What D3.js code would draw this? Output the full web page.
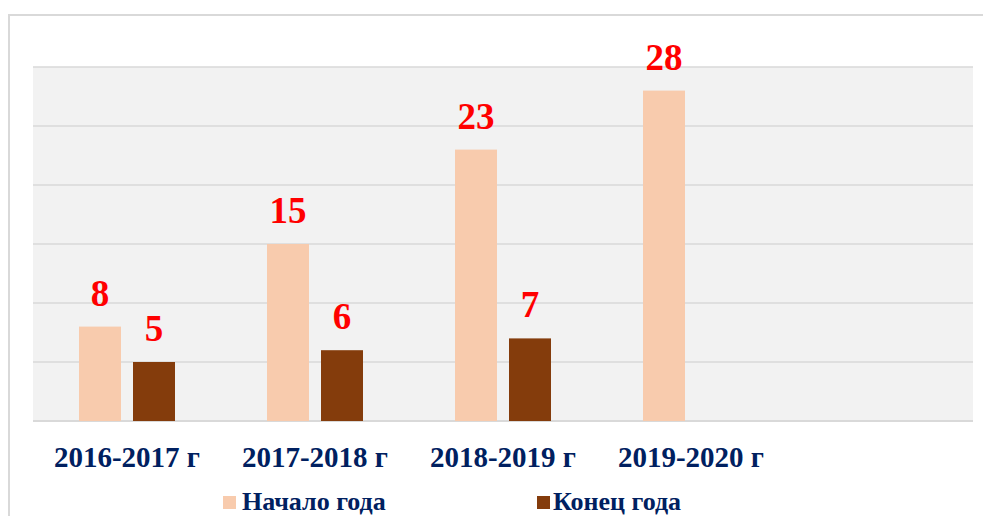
<!DOCTYPE html>
<html><head><meta charset="utf-8">
<script src="https://cdn.jsdelivr.net/npm/d3@7/dist/d3.min.js"></script>
<style>body{margin:0;background:#fff;}svg{display:block;}</style>
</head><body>
<svg id="c" width="983" height="516"></svg>
<script>
const categories = ["2016-2017 г","2017-2018 г","2018-2019 г","2019-2020 г",""];
const seriesNames = ["Начало года","Конец года"];
const startValues = [8,15,23,28,null];
const endValues = [5,6,7,null,null];
const yTicks = [0,5,10,15,20,25,30];
const colors = ["#F8CBAD","#843C0C"];

const svg = d3.select("#c");
// outer frame
svg.append("path").attr("d","M9,516 V15 H983").attr("fill","none").attr("stroke","#D9D9D9").attr("stroke-width",2);

const x = d3.scaleBand().domain(categories.map((c,i)=>i)).range([33,973]).paddingInner(0).paddingOuter(0);
const x1 = d3.scaleBand().domain(seriesNames).range([0,x.bandwidth()]).paddingInner(0.2222).paddingOuter(0.8519);
const y = d3.scaleLinear().domain([0,30]).range([421,67]);

svg.append("rect").attr("x",33).attr("y",y(30)).attr("width",940).attr("height",y(0)-y(30)).attr("fill","#F2F2F2");

svg.append("g").selectAll("line").data(yTicks).join("line")
  .attr("x1",33).attr("x2",973).attr("y1",d=>y(d)).attr("y2",d=>y(d))
  .attr("stroke","#D9D9D9").attr("stroke-width",d=>d===0?2:1.5);

const rows = categories.map((c,i)=>({i, vals:[startValues[i], endValues[i]]}));
const g = svg.append("g").selectAll("g").data(rows).join("g").attr("transform",d=>`translate(${x(d.i)},0)`);
g.selectAll("rect").data(d=>d.vals.map((v,k)=>({v,k})).filter(e=>e.v!=null)).join("rect")
  .attr("x",e=>x1(seriesNames[e.k])).attr("width",x1.bandwidth())
  .attr("y",e=>y(e.v)).attr("height",e=>y(0)-y(e.v))
  .attr("fill",e=>colors[e.k]);
g.selectAll("text").data(d=>d.vals.map((v,k)=>({v,k})).filter(e=>e.v!=null)).join("text")
  .attr("x",e=>x1(seriesNames[e.k])+x1.bandwidth()/2).attr("y",e=>y(e.v)-21)
  .attr("text-anchor","middle").attr("font-family","Liberation Serif, Times New Roman, serif")
  .attr("font-weight","bold").attr("font-size",37).attr("fill","#FF0000").text(e=>e.v);

svg.append("g").selectAll("text").data(categories.map((c,i)=>({c,i})).filter(d=>d.c)).join("text")
  .attr("x",d=>x(d.i)+x.bandwidth()/2).attr("y",467)
  .attr("text-anchor","middle").attr("font-family","Liberation Serif, Times New Roman, serif")
  .attr("font-weight","bold").attr("font-size",29).attr("fill","#002060").text(d=>d.c);

const legX = [223,537];
const lg = svg.append("g").selectAll("g").data(seriesNames).join("g").attr("transform",(d,i)=>`translate(${legX[i]},0)`);
lg.append("rect").attr("x",0).attr("y",496).attr("width",13).attr("height",13).attr("fill",(d,i)=>colors[i]);
lg.append("text").attr("x",(d,i)=>i===0?19:16).attr("y",510).attr("font-family","Liberation Serif, Times New Roman, serif")
  .attr("font-weight","bold").attr("font-size",26).attr("fill","#002060").text(d=>d);
</script>
</body></html>
